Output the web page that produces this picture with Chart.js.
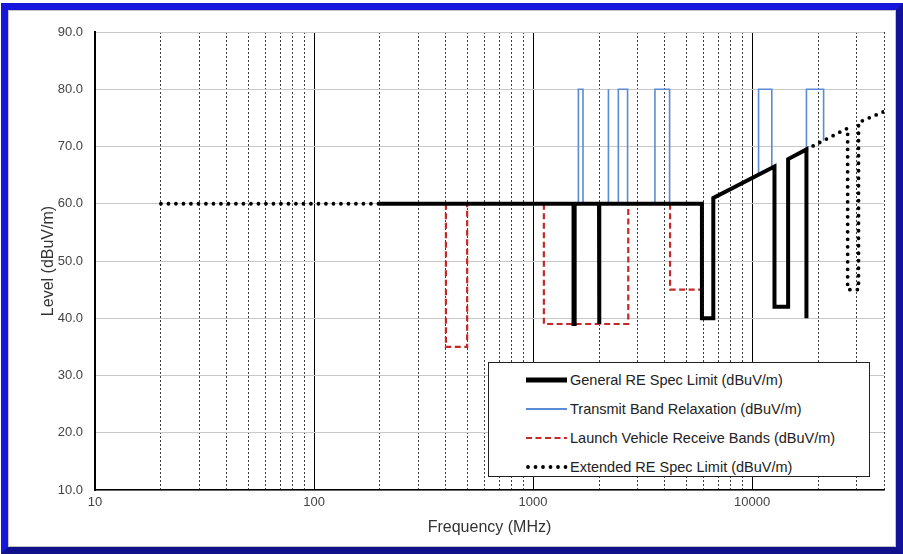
<!DOCTYPE html>
<html><head><meta charset="utf-8">
<script src="https://cdn.jsdelivr.net/npm/chart.js@4.4.1/dist/chart.umd.min.js"></script>
<style>
html,body{margin:0;padding:0;background:#fff;}
#wrap{position:relative;width:903px;height:554px;overflow:hidden;background:#fff;}
#c{position:absolute;left:0;top:0;}
#frame{position:absolute;left:1px;top:3px;width:902px;height:551px;box-sizing:border-box;border:7px solid #1616dc;border-bottom-color:#10108c;border-right-color:#12129a;pointer-events:none;}
#frame2{position:absolute;left:8px;top:10px;width:888px;height:537px;box-sizing:border-box;border:1px solid #c4c4c4;pointer-events:none;}
#legend{position:absolute;left:488px;top:362px;width:382px;height:115px;box-sizing:border-box;border:1px solid #222;background:#fff;font-family:"Liberation Sans",Arial,sans-serif;font-size:14.5px;color:#222;}
.row{position:absolute;left:37px;height:20px;display:flex;align-items:center;white-space:nowrap;}
.row svg{margin-right:2px;}
</style>
</head><body>
<div id="wrap">
<canvas id="c" width="903" height="554"></canvas>
<div id="legend"></div>
<div id="frame"></div>
<div id="frame2"></div>
</div>
<script>
// ---- data (frequency in MHz, level in dBuV/m) ----
const generalFreq  = [200, 1530, 1530, 1548, 1548, 2000, 2000, 2008, 2008, 5900, 5900, 6650, 6650, 12650, 12650, 14600, 14600, 17700, 17700];
const generalLevel = [60, 60, 39, 39, 60, 60, 39, 39, 60, 60, 40, 40, 61, 66.5, 42, 42, 67.8, 69.5, 40];

const transmitFreq = [
  [1610, 1610, 1690, 1690],
  [2200, 2200, 2212, 2212],
  [2450, 2450, 2700, 2700],
  [3600, 3600, 4200, 4200],
  [10700, 10700, 12300, 12300],
  [17700, 17700, 21200, 21200]
];
const transmitLevel = [
  [60, 80, 80, 60],
  [60, 80, 80, 60],
  [60, 80, 80, 60],
  [60, 80, 80, 60],
  [65.1, 80, 80, 66.2],
  [69.5, 80, 80, 71]
];

const launchFreq = [
  [400, 400, 500, 500],
  [1120, 1120, 2720, 2720],
  [4220, 4220, 5900, 5900]
];
const launchLevel = [
  [60, 35, 35, 60],
  [60, 39, 39, 60],
  [60, 45, 45, 60]
];

const extendedFreq = [
  [20, 200],
  [17700, 27300, 27300, 30600, 30600, 40000]
];
const extendedLevel = [
  [60, 60],
  [69.5, 73.2, 45, 45, 74.2, 76.1]
];

const minorTicks = [20,30,40,50,60,70,80,90,200,300,400,500,600,700,800,900,2000,3000,4000,5000,6000,7000,8000,9000,20000,30000,40000];
const decadeTicks = [10, 100, 1000, 10000];
const yTicks = [10, 20, 30, 40, 50, 60, 70, 80, 90];

const seriesNames = [
  'General RE Spec Limit (dBuV/m)',
  'Transmit Band Relaxation (dBuV/m)',
  'Launch Vehicle Receive Bands (dBuV/m)',
  'Extended RE Spec Limit (dBuV/m)'
];

// ---- helpers ----
function pts(f, l) { return f.map((x, i) => ({x: x, y: l[i]})); }
function multi(fs, ls) {
  const out = [];
  fs.forEach((f, k) => {
    if (k > 0) out.push({x: f[0], y: null});
    out.push(...pts(f, ls[k]));
  });
  return out;
}

const styles = [
  {borderColor: '#000000', borderWidth: 4, borderDash: [], borderCapStyle: 'butt'},
  {borderColor: '#5b8bd6', borderWidth: 1.6, borderDash: [], borderCapStyle: 'butt'},
  {borderColor: '#c62828', borderWidth: 2.2, borderDash: [6, 3.5], borderCapStyle: 'butt'},
  {borderColor: '#000000', borderWidth: 3.8, borderDash: [0, 7.5], borderCapStyle: 'round'}
];

const dataSets = [
  pts(generalFreq, generalLevel),
  multi(transmitFreq, transmitLevel),
  multi(launchFreq, launchLevel),
  multi(extendedFreq, extendedLevel)
];

const datasets = dataSets.map((d, i) => Object.assign({
  label: seriesNames[i],
  data: d,
  pointRadius: 0,
  pointHoverRadius: 0,
  tension: 0,
  fill: false,
  spanGaps: false,
  borderJoinStyle: 'miter',
  xAxisID: 'x',
  yAxisID: 'y'
}, styles[i]));

const FONT = '"Liberation Sans", Arial, sans-serif';

new Chart(document.getElementById('c'), {
  type: 'line',
  data: {datasets: datasets},
  options: {
    responsive: false,
    animation: false,
    events: [],
    layout: {padding: {left: 39, right: 19, top: 32, bottom: 12}},
    plugins: {legend: {display: false}, tooltip: {enabled: false}},
    scales: {
      xMinor: {
        type: 'logarithmic', position: 'top', min: 10, max: 40000,
        afterBuildTicks: s => { s.ticks = minorTicks.map(v => ({value: v})); },
        afterFit: s => { s.height = 0; },
        ticks: {display: false},
        grid: {color: 'rgba(40,40,40,0.9)', lineWidth: 1, drawTicks: false},
        border: {display: false, dash: [2, 2]}
      },
      x: {
        type: 'logarithmic', position: 'bottom', min: 10, max: 40000,
        afterBuildTicks: s => { s.ticks = decadeTicks.map(v => ({value: v})); },
        afterFit: s => { s.height = 52; },
        ticks: {
          color: '#444', font: {family: FONT, size: 13}, padding: 5,
          maxRotation: 0, autoSkip: false,
          callback: v => String(v)
        },
        grid: {color: '#000', lineWidth: 1, drawTicks: false},
        border: {display: true, color: '#000', width: 1.5},
        title: {display: true, text: 'Frequency (MHz)', color: '#333', font: {family: FONT, size: 16}, padding: {top: 0, bottom: 5}}
      },
      y: {
        type: 'linear', min: 10, max: 90,
        afterBuildTicks: s => { s.ticks = yTicks.map(v => ({value: v})); },
        afterFit: s => { s.width = 56; },
        ticks: {
          color: '#444', font: {family: FONT, size: 13}, padding: 12,
          callback: v => Number(v).toFixed(1)
        },
        grid: {color: '#c8c8c8', lineWidth: 1, drawTicks: false},
        border: {display: true, color: '#000', width: 2},
        title: {display: true, text: 'Level (dBuV/m)', color: '#333', font: {family: FONT, size: 16}, padding: {top: 0, bottom: 0}}
      }
    }
  }
});

// ---- HTML legend built from the dataset styles ----
const legend = document.getElementById('legend');
const rowCenters = [17, 46, 75, 104];
seriesNames.forEach((name, i) => {
  const st = styles[i];
  const row = document.createElement('div');
  row.className = 'row';
  row.style.top = (rowCenters[i] - 10) + 'px';
  const dash = st.borderDash.length ? st.borderDash.join(' ') : 'none';
  const sw = i === 0 ? 5 : (i === 1 ? 2 : st.borderWidth);
  row.innerHTML = '<svg width="42" height="10"><line x1="' + (st.borderCapStyle === 'round' ? 2 : 0) + '" y1="5" x2="41" y2="5" stroke="' + st.borderColor +
    '" stroke-width="' + sw + '" stroke-dasharray="' + dash + '" stroke-linecap="' + st.borderCapStyle + '"/></svg><span>' + name + '</span>';
  legend.appendChild(row);
});
</script>
</body></html>
